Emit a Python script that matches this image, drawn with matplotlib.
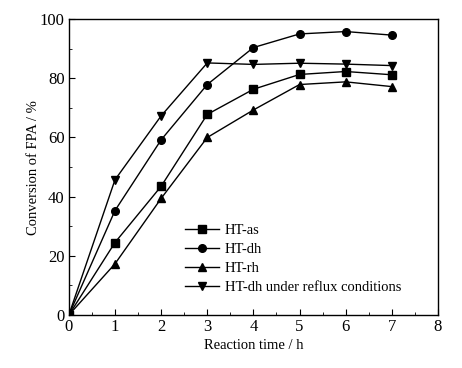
import matplotlib
matplotlib.use("Agg")
import matplotlib.pyplot as plt
from matplotlib.ticker import MultipleLocator

plt.rcParams["font.family"] = ["Liberation Serif", "DejaVu Serif"]

time_h = [0, 1, 2, 3, 4, 5, 6, 7]
ht_as = [0, 24.5, 43.5, 67.8, 76.3, 81.3, 82.3, 81.2]
ht_dh = [0, 35.3, 59.2, 77.9, 90.4, 95.0, 95.8, 94.6]
ht_rh = [0, 17.3, 39.4, 60.0, 69.3, 77.9, 78.8, 77.2]
ht_dh_reflux = [0, 45.7, 67.3, 85.2, 84.7, 85.1, 84.8, 84.3]

labels = ["HT-as", "HT-dh", "HT-rh", "HT-dh under reflux conditions"]
markers = ["s", "o", "^", "v"]

fig = plt.figure(figsize=(4.62, 3.68), dpi=100)
ax = fig.add_axes([0.149, 0.144, 0.799, 0.804])

for ys, lab, m in zip([ht_as, ht_dh, ht_rh, ht_dh_reflux], labels, markers):
    ax.plot(time_h, ys, color="black", marker=m, markersize=5.5, linewidth=1.0, label=lab)

ax.set_xlim(0, 8)
ax.set_ylim(0, 100)
ax.xaxis.set_major_locator(MultipleLocator(1))
ax.xaxis.set_minor_locator(MultipleLocator(0.5))
ax.yaxis.set_major_locator(MultipleLocator(20))
ax.yaxis.set_minor_locator(MultipleLocator(10))
ax.tick_params(which="both", direction="in", labelsize=12)
ax.tick_params(which="major", length=4, pad=3)
ax.tick_params(which="minor", length=2)
for s in ax.spines.values():
    s.set_linewidth(1.0)

ax.set_xlabel("Reaction time / h", fontsize=10.5, labelpad=3)
ax.set_ylabel("Conversion of FPA / %", fontsize=10.5, labelpad=0)

ax.legend(loc="lower left", bbox_to_anchor=(0.3, 0.05), frameon=False,
          fontsize=10.5, handlelength=2.3, handletextpad=0.4, labelspacing=0.4,
          borderaxespad=0)

fig.savefig("out.png", dpi=100)
